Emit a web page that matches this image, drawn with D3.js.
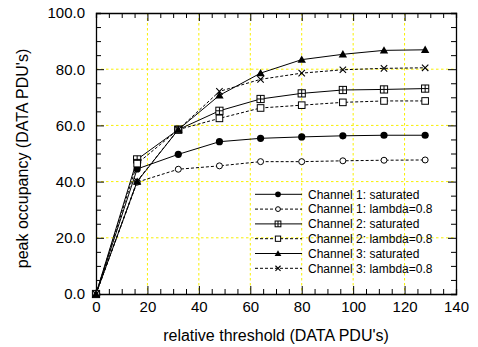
<!DOCTYPE html>
<html>
<head>
<meta charset="utf-8">
<script src="https://cdn.jsdelivr.net/npm/d3@7"></script>
<style>
  body { margin: 0; background: #fff; }
  svg { display: block; font-family: "Liberation Sans", Arial, sans-serif; }
</style>
</head>
<body>
<div id="chart"></div>
<script>
const thresholds = [0, 16, 32, 48, 64, 80, 96, 112, 128];
const ch1Saturated = [0, 44.5, 49.7, 54.2, 55.4, 55.9, 56.3, 56.5, 56.5];
const ch1Lambda = [0, 39.8, 44.4, 45.6, 47.1, 47.1, 47.4, 47.6, 47.7];
const ch2Saturated = [0, 47.9, 58.5, 65.2, 69.4, 71.4, 72.6, 72.8, 73.1];
const ch2Lambda = [0, 46.4, 58.5, 62.5, 66.2, 67.2, 68.2, 68.7, 68.7];
const ch3Saturated = [0, 40.0, 58.5, 70.7, 78.6, 83.4, 85.3, 86.7, 86.9];
const ch3Lambda = [0, 40.2, 58.5, 72.1, 76.4, 78.6, 79.8, 80.3, 80.5];
const xTicks = [0, 20, 40, 60, 80, 100, 120, 140];
const yTicks = [0, 20, 40, 60, 80, 100];

const series = [
  { name: 'Channel 1: saturated', values: ch1Saturated, dashed: false, marker: 'filledCircle' },
  { name: 'Channel 1: lambda=0.8', values: ch1Lambda, dashed: true, marker: 'openCircle' },
  { name: 'Channel 2: saturated', values: ch2Saturated, dashed: false, marker: 'gridSquare' },
  { name: 'Channel 2: lambda=0.8', values: ch2Lambda, dashed: true, marker: 'openSquare' },
  { name: 'Channel 3: saturated', values: ch3Saturated, dashed: false, marker: 'triangle' },
  { name: 'Channel 3: lambda=0.8', values: ch3Lambda, dashed: true, marker: 'cross' }
];

const width = 478, height = 347;
const margin = { top: 13, right: 22, bottom: 53, left: 96 };
const innerW = width - margin.left - margin.right;
const innerH = height - margin.top - margin.bottom;

const svg = d3.select('#chart').append('svg')
  .attr('width', width)
  .attr('height', height);

const g = svg.append('g')
  .attr('transform', `translate(${margin.left},${margin.top})`);

const x = d3.scaleLinear().domain([0, 140]).range([0, innerW]);
const y = d3.scaleLinear().domain([0, 100]).range([innerH, 0]);

// grid
const gridColor = '#f8f000';
g.selectAll('.vgrid')
  .data(xTicks.filter(d => d > 0 && d < 140))
  .enter().append('line')
  .attr('x1', d => x(d)).attr('x2', d => x(d))
  .attr('y1', 0).attr('y2', innerH)
  .attr('stroke', gridColor).attr('stroke-width', 1)
  .attr('stroke-dasharray', '2.5,2.5');
g.selectAll('.hgrid')
  .data(yTicks.filter(d => d > 0 && d < 100))
  .enter().append('line')
  .attr('x1', 0).attr('x2', innerW)
  .attr('y1', d => y(d)).attr('y2', d => y(d))
  .attr('stroke', gridColor).attr('stroke-width', 1)
  .attr('stroke-dasharray', '2.5,2.5');

// axes with inward ticks on all four sides
const xMinor = d3.range(0, 141, 5);
const yMinor = d3.range(0, 101, 5);

const axBottom = g.append('g').attr('transform', `translate(0,${innerH})`)
  .call(d3.axisBottom(x).tickValues(xMinor).tickSize(-5).tickFormat(d => xTicks.includes(d) ? d : '').tickPadding(7));
axBottom.selectAll('.tick line').attr('y2', d => xTicks.includes(d) ? -8 : -5);

const axTop = g.append('g')
  .call(d3.axisTop(x).tickValues(xMinor).tickSize(-5).tickFormat(''));
axTop.selectAll('.tick line').attr('y2', d => xTicks.includes(d) ? 8 : 5);

const axLeft = g.append('g')
  .call(d3.axisLeft(y).tickValues(yMinor).tickSize(-5).tickFormat(d => yTicks.includes(d) ? d3.format('.1f')(d) : '').tickPadding(11));
axLeft.selectAll('.tick line').attr('x2', d => yTicks.includes(d) ? 8 : 5);

const axRight = g.append('g').attr('transform', `translate(${innerW},0)`)
  .call(d3.axisRight(y).tickValues(yMinor).tickSize(-5).tickFormat(''));
axRight.selectAll('.tick line').attr('x2', d => yTicks.includes(d) ? -8 : -5);

svg.selectAll('.domain').attr('stroke', '#000').attr('stroke-width', 1.3);
svg.selectAll('.tick line').attr('stroke', '#000');
svg.selectAll('.tick text').attr('font-size', 15).attr('fill', '#000')
  .attr('font-family', '"Liberation Sans", Arial, sans-serif');

// axis titles
svg.append('text')
  .attr('x', 276)
  .attr('y', 341)
  .attr('text-anchor', 'middle')
  .attr('font-size', 16)
  .text("relative threshold (DATA PDU's)");

svg.append('text')
  .attr('transform', 'translate(27.5,158.5) rotate(-90)')
  .attr('text-anchor', 'middle')
  .attr('font-size', 16)
  .text("peak occupancy (DATA PDU's)");

// markers
function drawMarker(sel, type, s) {
  if (type === 'filledCircle') {
    sel.append('circle').attr('r', 3.6 * s).attr('fill', '#000');
  } else if (type === 'openCircle') {
    sel.append('circle').attr('r', 3 * s).attr('fill', '#fff').attr('stroke', '#000').attr('stroke-width', 1);
  } else if (type === 'gridSquare') {
    const h = 3.6 * s;
    sel.append('rect').attr('x', -h).attr('y', -h).attr('width', 2 * h).attr('height', 2 * h)
      .attr('fill', '#fff').attr('stroke', '#000').attr('stroke-width', 1);
    sel.append('path').attr('d', `M${-h},0H${h}M0,${-h}V${h}`).attr('stroke', '#000').attr('stroke-width', 1);
  } else if (type === 'openSquare') {
    const h = 3.3 * s;
    sel.append('rect').attr('x', -h).attr('y', -h).attr('width', 2 * h).attr('height', 2 * h)
      .attr('fill', '#fff').attr('stroke', '#000').attr('stroke-width', 1);
  } else if (type === 'triangle') {
    const h = 4.2 * s;
    sel.append('path').attr('d', `M0,${-h}L${h},${h * 0.75}L${-h},${h * 0.75}Z`).attr('fill', '#000');
  } else if (type === 'cross') {
    const h = 3.2 * s;
    sel.append('path').attr('d', `M${-h},${-h}L${h},${h}M${-h},${h}L${h},${-h}`)
      .attr('stroke', '#000').attr('stroke-width', 1.1);
  }
}

const line = d3.line()
  .x((d, i) => x(thresholds[i]))
  .y(d => y(d));

series.forEach(s => {
  g.append('path')
    .datum(s.values)
    .attr('fill', 'none')
    .attr('stroke', '#000')
    .attr('stroke-width', 1)
    .attr('stroke-dasharray', s.dashed ? '3,2' : null)
    .attr('d', line);
});

series.forEach(s => {
  g.selectAll(null)
    .data(s.values)
    .enter().append('g')
    .attr('transform', (d, i) => `translate(${x(thresholds[i])},${y(d)})`)
    .each(function () { drawMarker(d3.select(this), s.marker, 1); });
});

// legend
const legend = svg.append('g').attr('transform', 'translate(255,194.3)');
series.forEach((s, i) => {
  const row = legend.append('g').attr('transform', `translate(0,${i * 14.8})`);
  row.append('line')
    .attr('x1', 0).attr('x2', 47).attr('y1', 0).attr('y2', 0)
    .attr('stroke', '#000').attr('stroke-width', 1)
    .attr('stroke-dasharray', s.dashed ? '3,2' : null);
  const m = row.append('g').attr('transform', 'translate(23,0)');
  drawMarker(m, s.marker, 0.8);
  row.append('text')
    .attr('x', 53)
    .attr('y', 0)
    .attr('dy', '0.36em')
    .attr('font-size', 12)
    .text(s.name);
});
</script>
</body>
</html>
